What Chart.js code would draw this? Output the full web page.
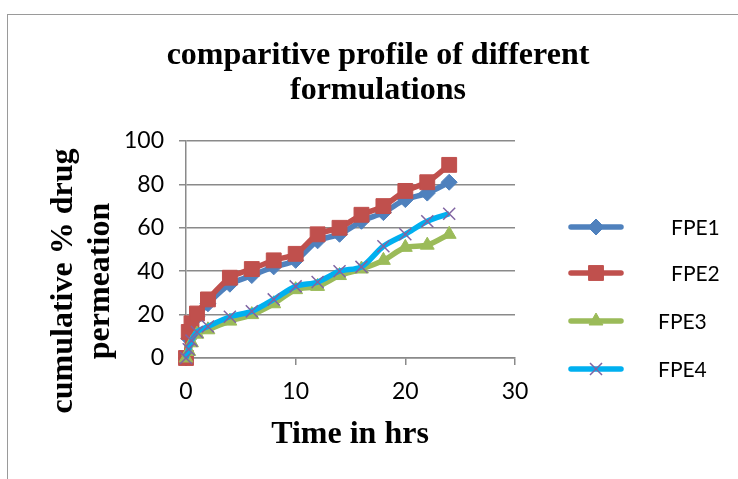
<!DOCTYPE html>
<html>
<head>
<meta charset="utf-8">
<script src="https://cdn.jsdelivr.net/npm/chart.js@4"></script>
<style>
  html, body { margin: 0; padding: 0; background: #fff; }
  #wrap { position: relative; width: 738px; height: 479px; overflow: hidden; }
  #frame { position: absolute; left: 7px; top: 14px; width: 760px; height: 500px; border: 1px solid #9a9a9a; box-sizing: border-box; }
  canvas { position: absolute; left: 0; top: 0; }
</style>
</head>
<body>
<div id="wrap">
  <div id="frame"></div>
  <canvas id="c" width="738" height="479"></canvas>
</div>
<script>
const chartTitle = ["comparitive profile of different", "formulations"];
const yTitle = ["cumulative % drug", "permeation"];
const xTitle = "Time in hrs";
const seriesNames = ["FPE1", "FPE2", "FPE3", "FPE4"];
const timeHrs = [0, 0.25, 0.5, 1, 2, 4, 6, 8, 10, 12, 14, 16, 18, 20, 22, 24];
const fpe1 = [0, 9, 14, 19, 25, 34, 38, 42, 45, 54, 57, 63, 67, 73, 76, 81];
const fpe2 = [0, 12, 16, 20.5, 27, 37, 41, 45, 48, 57, 60, 66, 70, 77, 81, 89];
const fpe3 = [0, 3, 7, 11, 13, 17, 20, 25, 31.5, 33, 38, 41, 45, 51, 52, 57];
const fpe4 = [0, 4, 8, 12, 14.5, 19, 21.5, 27, 33, 35, 40, 42, 51.5, 57, 63, 66.5];
const xTicks = [0, 10, 20, 30];
const yTicks = [0, 20, 40, 60, 80, 100];

const lineColors = ["#4F81BD", "#C0504D", "#9BBB59", "#00B0F0"];
const markerColors = ["#4F81BD", "#C0504D", "#9BBB59", "#8064A2"];
const markerStyles = ["rectRot", "rect", "triangle", "crossRot"];
const markerRadius = [8, 10.5, 8, 8.5];

function pts(ys) { return timeHrs.map((t, i) => ({ x: t, y: ys[i] })); }
const allSeries = [fpe1, fpe2, fpe3, fpe4];

const datasets = allSeries.map((s, i) => ({
  label: seriesNames[i],
  data: pts(s),
  borderColor: lineColors[i],
  backgroundColor: markerColors[i],
  pointBackgroundColor: markerColors[i],
  pointBorderColor: markerColors[i],
  pointBorderWidth: i === 3 ? 1.5 : 1,
  pointStyle: markerStyles[i],
  pointRadius: markerRadius[i],
  borderWidth: 5.5,
  tension: 0.3,
  clip: false,
  order: 4 - i
}));

const serif = "'Liberation Serif', 'Times New Roman', serif";
const sans = "Lato, 'Open Sans', sans-serif";

const decor = {
  id: 'decor',
  afterDraw(chart) {
    const ctx = chart.ctx;
    ctx.save();
    ctx.fillStyle = '#000';
    ctx.textAlign = 'center';
    ctx.textBaseline = 'middle';
    ctx.font = "bold 32px " + serif;
    ctx.fillText(chartTitle[0], 378, 56);
    ctx.fillText(chartTitle[1], 378, 91);
    ctx.fillText(xTitle, 350, 435);
    ctx.save();
    ctx.translate(64, 281);
    ctx.rotate(-Math.PI / 2);
    ctx.fillText(yTitle[0], 0, 0);
    ctx.restore();
    ctx.save();
    ctx.translate(101, 281);
    ctx.rotate(-Math.PI / 2);
    ctx.fillText(yTitle[1], 0, 0);
    ctx.restore();

    // legend
    const ys = [227, 273, 321, 369];
    const labelX = [671, 671, 658, 658];
    chart.data.datasets.forEach((ds, i) => {
      const y = ys[i];
      ctx.strokeStyle = ds.borderColor;
      ctx.lineWidth = 5.5;
      ctx.lineCap = 'round';
      ctx.beginPath();
      ctx.moveTo(571, y);
      ctx.lineTo(621, y);
      ctx.stroke();
      ctx.fillStyle = ds.pointBackgroundColor;
      ctx.strokeStyle = ds.pointBorderColor;
      ctx.lineWidth = ds.pointBorderWidth;
      ctx.lineCap = 'butt';
      const o = { pointStyle: ds.pointStyle, radius: ds.pointRadius, borderWidth: ds.pointBorderWidth, rotation: 0 };
      Chart.helpers.drawPoint(ctx, o, 596, y);
      ctx.fillStyle = '#000';
      ctx.textAlign = 'left';
      ctx.font = "21px " + sans;
      ctx.fillText(ds.label, labelX[i], y + 1);
    });
    ctx.restore();
  }
};

new Chart(document.getElementById('c'), {
  type: 'line',
  data: { datasets },
  options: {
    responsive: false,
    animation: false,
    devicePixelRatio: 1,
    layout: { padding: { left: 0, top: 141, right: 223, bottom: 0 } },
    plugins: { legend: { display: false }, title: { display: false }, tooltip: { enabled: false } },
    scales: {
      x: {
        type: 'linear',
        min: 0, max: 30,
        afterBuildTicks: (s) => { s.ticks = xTicks.map(v => ({ value: v })); },
        afterFit: (s) => { s.height = 121; },
        grid: { drawOnChartArea: false, drawTicks: true, tickLength: 7, color: '#8a8a8a', lineWidth: 1.5 },
        border: { color: '#8a8a8a', width: 1.5 },
        ticks: { color: '#000', font: { family: sans, size: 23 }, padding: 13 }
      },
      y: {
        type: 'linear',
        min: 0, max: 100,
        afterBuildTicks: (s) => { s.ticks = yTicks.map(v => ({ value: v })); },
        afterFit: (s) => { s.width = 186; },
        grid: { drawOnChartArea: true, drawTicks: true, tickLength: 7, color: '#8a8a8a', lineWidth: 1.5 },
        border: { color: '#8a8a8a', width: 1.5 },
        ticks: { color: '#000', font: { family: sans, size: 23 }, padding: 15 }
      }
    }
  },
  plugins: [decor]
});
</script>
</body>
</html>
